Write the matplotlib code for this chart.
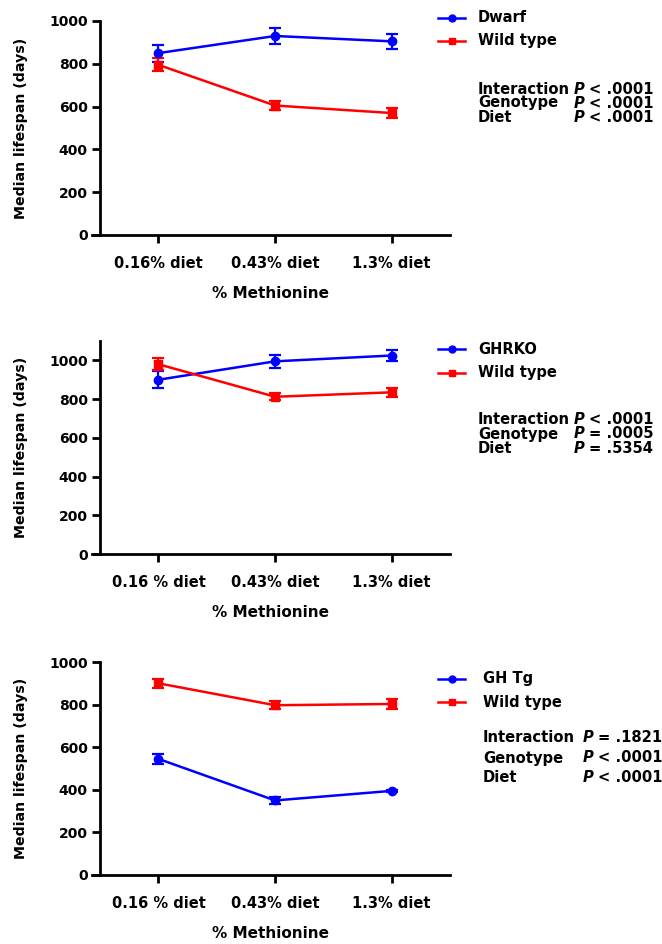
import numpy as np
import matplotlib
matplotlib.use('Agg')
from matplotlib import pyplot as plt
from matplotlib.lines import Line2D

plt.rcParams['font.family'] = ['DejaVu Sans']
plt.rcParams['font.weight'] = 'bold'

# data
diets_1 = ['0.16% diet', '0.43% diet', '1.3% diet']
diets_2 = ['0.16 % diet', '0.43% diet', '1.3% diet']

dwarf = [850, 930, 905]
dwarf_err = [40, 38, 35]
wt1 = [795, 605, 570]
wt1_err = [30, 22, 22]

ghrko = [900, 995, 1025]
ghrko_err = [45, 35, 30]
wt2 = [980, 812, 835]
wt2_err = [30, 18, 22]

ghtg = [545, 350, 395]
ghtg_err = [25, 18, 5]
wt3 = [900, 797, 803]
wt3_err = [22, 18, 22]

stats_1 = [('Interaction', '< .0001'), ('Genotype', '< .0001'), ('Diet', '< .0001')]
stats_2 = [('Interaction', '< .0001'), ('Genotype', '= .0005'), ('Diet', '= .5354')]
stats_3 = [('Interaction', '= .1821'), ('Genotype', '< .0001'), ('Diet', '< .0001')]

BLUE = '#0000ff'
RED = '#ff0000'
W, H = 662, 944
FS = 10.5
FS_STAT = 10.6

fig = plt.figure(figsize=(W / 100, H / 100), dpi=100)


def px(x, y):
    return x / W, 1 - y / H


panels = [
    # (top px, bottom px, ymax, labels, mutant, mut_err, wt, wt_err, name, stats, legend y, stats y, text x, P x)
    (21, 235, 1000, diets_1, dwarf, dwarf_err, wt1, wt1_err, 'Dwarf', stats_1, (18, 41), (89, 103, 118), 478, 574),
    (341, 554, 1100, diets_2, ghrko, ghrko_err, wt2, wt2_err, 'GHRKO', stats_2, (349, 373), (419, 434, 448), 478, 574),
    (662, 875, 1000, diets_2, ghtg, ghtg_err, wt3, wt3_err, 'GH Tg', stats_3, (679, 702), (738, 758, 778), 483, 583),
]

for top, bot, ymax, labels, mut, mut_err, wt, wt_err, name, stats, leg_y, st_y, tx, ptx in panels:
    left, right = 92, 450
    ax = fig.add_axes([left / W, 1 - bot / H, (right - left) / W, (bot - top) / H])
    x = np.arange(3)
    ax.errorbar(x, mut, yerr=mut_err, color=BLUE, marker='o', markersize=6, lw=1.8,
                capsize=4, capthick=1.6, elinewidth=1.6)
    ax.errorbar(x, wt, yerr=wt_err, color=RED, marker='s', markersize=6, lw=1.8,
                capsize=4, capthick=1.6, elinewidth=1.6)
    ax.set_xlim(-0.57, 2.5)
    ax.set_ylim(0, ymax)
    ax.set_yticks([0, 200, 400, 600, 800, 1000])
    ax.set_xticks(x)
    ax.set_xticklabels(labels, fontsize=FS, fontweight='bold')
    for t in ax.get_yticklabels():
        t.set_fontsize(FS + 0.5)
        t.set_fontweight('bold')
    ax.spines['top'].set_visible(False)
    ax.spines['right'].set_visible(False)
    ax.spines['left'].set_position(('data', -0.5))
    ax.spines['left'].set_linewidth(2)
    ax.spines['bottom'].set_linewidth(2)
    ax.tick_params(axis='both', width=2, length=6, pad=3)
    ax.tick_params(axis='x', pad=9)
    ax.set_xlabel('% Methionine', fontsize=FS + 0.5, fontweight='bold', labelpad=11)
    ax.set_ylabel('Median lifespan (days)', fontsize=10.2, fontweight='bold', labelpad=15)

    # legend drawn by hand
    for ly, col, mk, lab in [(leg_y[0], BLUE, 'o', name), (leg_y[1], RED, 's', 'Wild type')]:
        x0, y0 = px(438, ly)
        x1, _ = px(465, ly)
        fig.add_artist(Line2D([x0, x1], [y0, y0], color=col, lw=1.8))
        fig.add_artist(Line2D([(x0 + x1) / 2], [y0], color=col, marker=mk, markersize=5))
        fig.text(*px(tx, ly), lab, fontsize=FS, fontweight='bold', va='center', ha='left')

    for (lab, val), sy in zip(stats, st_y):
        fig.text(*px(tx, sy), lab, fontsize=FS_STAT, fontweight='bold', va='center', ha='left')
        fig.text(*px(ptx, sy), 'P', fontsize=FS_STAT, fontweight='bold', style='italic',
                 va='center', ha='left')
        fig.text(*px(ptx + 15, sy), val, fontsize=FS_STAT, fontweight='bold',
                 va='center', ha='left')

plt.savefig('out.png', dpi=100)
